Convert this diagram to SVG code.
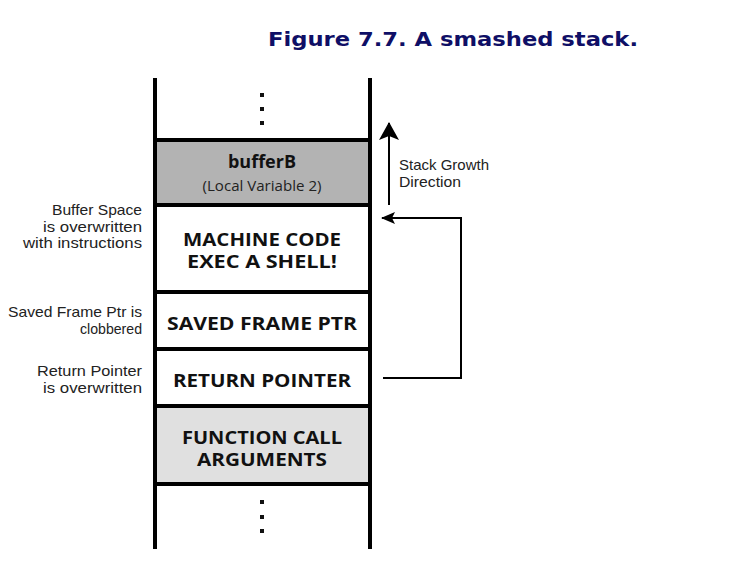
<svg xmlns="http://www.w3.org/2000/svg" width="750" height="584" viewBox="0 0 750 584">
<defs>
<style>
.title{font-family:"DejaVu Sans",Verdana,sans-serif;font-weight:bold;font-size:20px;fill:#0f0f66}
.box{font-family:"Open Sans","Noto Sans",sans-serif;font-weight:bold;font-size:18px;fill:#111;text-anchor:middle}
.sub{font-family:"Open Sans","Noto Sans",sans-serif;font-size:15px;fill:#222;text-anchor:middle}
.lbl{font-family:"Liberation Sans",Arial,sans-serif;font-size:14.5px;fill:#222;text-anchor:end}
.note{font-family:"Liberation Sans",Arial,sans-serif;font-size:14.5px;fill:#222}
.wall{stroke:#000;stroke-width:4;fill:none}
.sep{stroke:#000;stroke-width:4}
.conn{stroke:#000;stroke-width:2;fill:none}
</style>
<marker id="ah" viewBox="0 0 14 12" refX="13" refY="6" markerWidth="14" markerHeight="12" markerUnits="userSpaceOnUse" orient="auto">
<path d="M0,0 L14,6 L0,12 L3,6 Z" fill="#000"/>
</marker>
<marker id="ah2" viewBox="0 0 18 20" refX="17" refY="10" markerWidth="18" markerHeight="20" markerUnits="userSpaceOnUse" orient="auto">
<path d="M0,0 L18,10 L0,20 L4,10 Z" fill="#000"/>
</marker>
</defs>
<rect width="750" height="584" fill="#fff"/>
<text class="title" x="268" y="46" textLength="370" lengthAdjust="spacingAndGlyphs">Figure 7.7. A smashed stack.</text>

<g id="top-dots" fill="#111">
<rect x="260" y="93" width="4" height="4"/>
<rect x="260" y="107" width="4" height="4"/>
<rect x="260" y="121" width="4" height="4"/>
</g>
<g id="bufferB">
<rect x="155" y="140" width="215" height="65" fill="#b3b3b3"/>
<text class="box" x="262" y="168">bufferB</text>
<text class="sub" x="262" y="191" textLength="119" lengthAdjust="spacingAndGlyphs">(Local Variable 2)</text>
</g>
<g id="machine-code">
<rect x="155" y="205" width="215" height="87" fill="#fff"/>
<text class="box" x="262" y="246" textLength="158" lengthAdjust="spacingAndGlyphs">MACHINE CODE</text>
<text class="box" x="262" y="268" textLength="150" lengthAdjust="spacingAndGlyphs">EXEC A SHELL!</text>
</g>
<g id="saved-frame-ptr">
<rect x="155" y="292" width="215" height="57" fill="#fff"/>
<text class="box" x="262" y="330" textLength="190" lengthAdjust="spacingAndGlyphs">SAVED FRAME PTR</text>
</g>
<g id="return-pointer">
<rect x="155" y="349" width="215" height="57" fill="#fff"/>
<text class="box" x="262" y="387" textLength="178" lengthAdjust="spacingAndGlyphs">RETURN POINTER</text>
</g>
<g id="function-call-arguments">
<rect x="155" y="406" width="215" height="78" fill="#e0e0e0"/>
<text class="box" x="262" y="444" textLength="160" lengthAdjust="spacingAndGlyphs">FUNCTION CALL</text>
<text class="box" x="262" y="466" textLength="130" lengthAdjust="spacingAndGlyphs">ARGUMENTS</text>
</g>
<g id="bottom-dots" fill="#111">
<rect x="260" y="500" width="4" height="4"/>
<rect x="260" y="515" width="4" height="4"/>
<rect x="260" y="529" width="4" height="4"/>
</g>

<g id="stack-frame-lines">
<line class="wall" x1="155" y1="78" x2="155" y2="549"/>
<line class="wall" x1="370" y1="78" x2="370" y2="549"/>
<line class="sep" x1="155" y1="140" x2="370" y2="140"/>
<line class="sep" x1="155" y1="205" x2="370" y2="205"/>
<line class="sep" x1="155" y1="292" x2="370" y2="292"/>
<line class="sep" x1="155" y1="349" x2="370" y2="349"/>
<line class="sep" x1="155" y1="406" x2="370" y2="406"/>
<line class="sep" x1="155" y1="484" x2="370" y2="484"/>
</g>

<g id="labels">
<text class="lbl" x="142" y="215" textLength="90" lengthAdjust="spacingAndGlyphs">Buffer Space</text>
<text class="lbl" x="142" y="231.5" textLength="99" lengthAdjust="spacingAndGlyphs">is overwritten</text>
<text class="lbl" x="142" y="248" textLength="119" lengthAdjust="spacingAndGlyphs">with instructions</text>
<text class="lbl" x="142" y="317" textLength="134" lengthAdjust="spacingAndGlyphs">Saved Frame Ptr is</text>
<text class="lbl" x="142" y="334" textLength="62" lengthAdjust="spacingAndGlyphs">clobbered</text>
<text class="lbl" x="142" y="376" textLength="105" lengthAdjust="spacingAndGlyphs">Return Pointer</text>
<text class="lbl" x="142" y="393" textLength="99" lengthAdjust="spacingAndGlyphs">is overwritten</text>
<text class="note" x="399" y="170" textLength="90" lengthAdjust="spacingAndGlyphs">Stack Growth</text>
<text class="note" x="399" y="187" textLength="62" lengthAdjust="spacingAndGlyphs">Direction</text>
</g>

<g id="connectors">
<line class="conn" x1="389" y1="205" x2="389" y2="123" marker-end="url(#ah2)"/>
<polyline class="conn" points="383,378 461,378 461,218 382,218" marker-end="url(#ah)"/>
</g>
</svg>
